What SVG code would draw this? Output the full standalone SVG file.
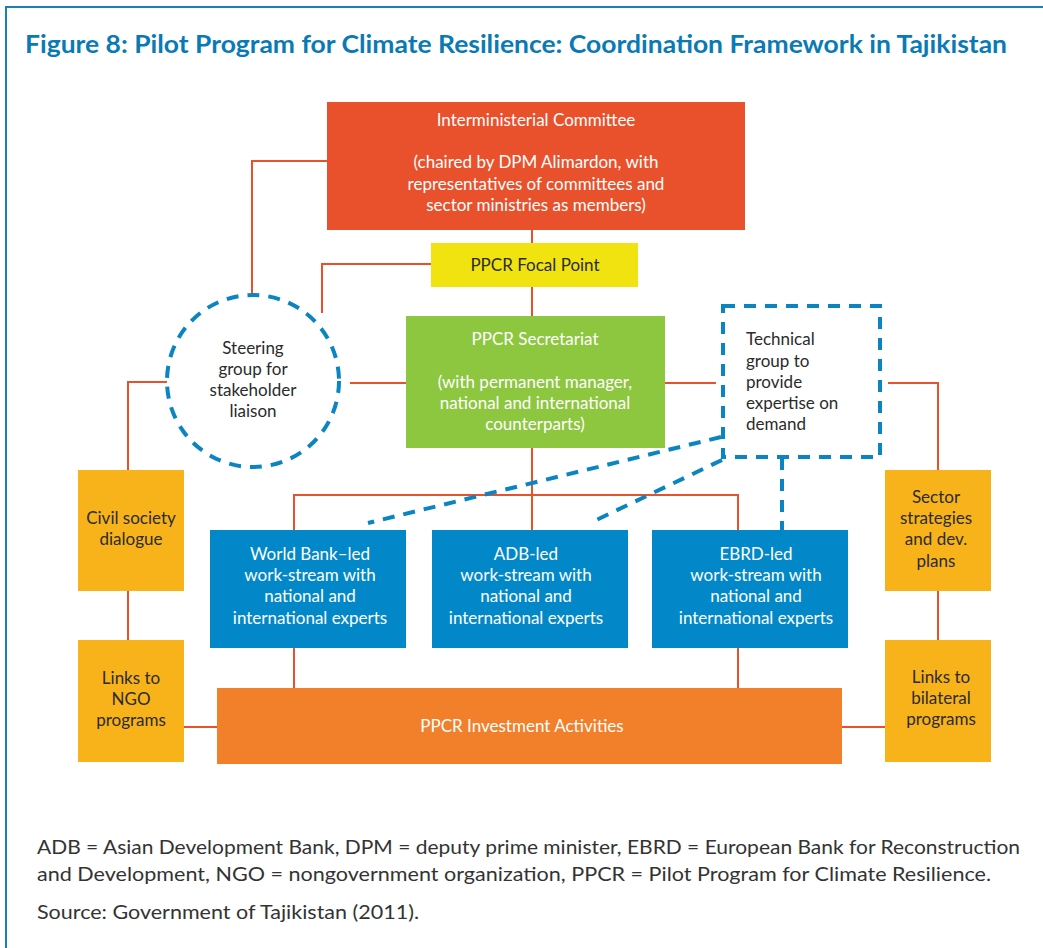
<svg xmlns="http://www.w3.org/2000/svg" width="1043" height="948" viewBox="0 0 1043 948">
<style>
.t{font-family:Lato,"Noto Sans",sans-serif;font-size:17px;text-anchor:middle}
.w{fill:#ffffff}
.d{fill:#2b2b2b}
.l{text-anchor:start}
.ln{fill:none;stroke:#e8512b;stroke-width:2}
.ds{fill:none;stroke:#0b84c2;stroke-width:4;stroke-dasharray:12 9}
.foot{font-family:Lato,"Noto Sans",sans-serif;font-size:19px;fill:#333333}
</style>
<rect x="0" y="0" width="1043" height="948" fill="#ffffff"/>
<path d="M6 948 V7 H1043" fill="none" stroke="#1a80b8" stroke-width="2"/>
<text x="25" y="53" font-family="Lato,'Noto Sans',sans-serif" font-weight="bold" font-size="24" fill="#0a7ab5" textLength="982" lengthAdjust="spacingAndGlyphs">Figure 8: Pilot Program for Climate Resilience: Coordination Framework in Tajikistan</text>

<g id="connectors">
<path class="ln" d="M532 230 V243"/>
<path class="ln" d="M532 287 V316"/>
<path class="ln" d="M327 161 H252 V296"/>
<path class="ln" d="M431 264 H322 V313"/>
<path class="ln" d="M350 383 H406"/>
<path class="ln" d="M167 382 H128 V470"/>
<path class="ln" d="M665 383 H716"/>
<path class="ln" d="M888 383 H938 V470"/>
<path class="ln" d="M532 448 V530"/>
<path class="ln" d="M294 530 V495 H738 V530"/>
<path class="ln" d="M294 648 V688"/>
<path class="ln" d="M738 648 V688"/>
<path class="ln" d="M128 591 V640"/>
<path class="ln" d="M938 591 V640"/>
<path class="ln" d="M184 727 H217"/>
<path class="ln" d="M842 727 H885"/>
<path class="ds" d="M721 437 L368 523"/>
<path class="ds" d="M722 460 L590 523"/>
<path class="ds" d="M782 458 V538"/>
</g>

<g id="committee">
<rect x="327" y="102" width="418" height="128" fill="#e8512b"/>
<text class="t w" x="536" y="126">Interministerial Committee</text>
<text class="t w" x="536" y="168">(chaired by DPM Alimardon, with</text>
<text class="t w" x="536" y="190">representatives of committees and</text>
<text class="t w" x="536" y="211">sector ministries as members)</text>
</g>

<g id="focal-point">
<rect x="431" y="243" width="207" height="44" fill="#f0e30f"/>
<text class="t d" x="535" y="271">PPCR Focal Point</text>
</g>

<g id="steering">
<circle cx="253" cy="381" r="86" fill="none" stroke="#0b84c2" stroke-width="4" stroke-dasharray="12 9"/>
<text class="t d" x="253" y="354">Steering</text>
<text class="t d" x="253" y="375">group for</text>
<text class="t d" x="253" y="396">stakeholder</text>
<text class="t d" x="253" y="417">liaison</text>
</g>

<g id="secretariat">
<rect x="406" y="316" width="259" height="132" fill="#8dc63f"/>
<text class="t w" x="535" y="345">PPCR Secretariat</text>
<text class="t w" x="535" y="388">(with permanent manager,</text>
<text class="t w" x="535" y="409">national and international</text>
<text class="t w" x="535" y="430">counterparts)</text>
</g>

<g id="technical">
<rect x="723" y="306" width="157" height="151" fill="none" stroke="#0b84c2" stroke-width="4" stroke-dasharray="12 9"/>
<text class="t d l" x="746" y="345">Technical</text>
<text class="t d l" x="746" y="367">group to</text>
<text class="t d l" x="746" y="388">provide</text>
<text class="t d l" x="746" y="409">expertise on</text>
<text class="t d l" x="746" y="430">demand</text>
</g>

<g id="civil">
<rect x="78" y="470" width="106" height="121" fill="#f8b31a"/>
<text class="t d" x="131" y="524">Civil society</text>
<text class="t d" x="131" y="545">dialogue</text>
</g>

<g id="ngo">
<rect x="78" y="640" width="106" height="122" fill="#f8b31a"/>
<text class="t d" x="131" y="684">Links to</text>
<text class="t d" x="131" y="705">NGO</text>
<text class="t d" x="131" y="726">programs</text>
</g>

<g id="sector">
<rect x="885" y="470" width="106" height="121" fill="#f8b31a"/>
<text class="t d" x="936" y="503">Sector</text>
<text class="t d" x="936" y="524">strategies</text>
<text class="t d" x="936" y="545">and dev.</text>
<text class="t d" x="936" y="567">plans</text>
</g>

<g id="bilateral">
<rect x="885" y="640" width="106" height="122" fill="#f8b31a"/>
<text class="t d" x="941" y="683">Links to</text>
<text class="t d" x="941" y="704">bilateral</text>
<text class="t d" x="941" y="725">programs</text>
</g>

<g id="worldbank">
<rect x="210" y="530" width="196" height="118" fill="#0288c8"/>
<text class="t w" x="310" y="560">World Bank–led</text>
<text class="t w" x="310" y="581">work-stream with</text>
<text class="t w" x="310" y="602">national and</text>
<text class="t w" x="310" y="624">international experts</text>
</g>

<g id="adb">
<rect x="432" y="530" width="196" height="118" fill="#0288c8"/>
<text class="t w" x="526" y="560">ADB-led</text>
<text class="t w" x="526" y="581">work-stream with</text>
<text class="t w" x="526" y="602">national and</text>
<text class="t w" x="526" y="624">international experts</text>
</g>

<g id="ebrd">
<rect x="652" y="530" width="196" height="118" fill="#0288c8"/>
<text class="t w" x="756" y="560">EBRD-led</text>
<text class="t w" x="756" y="581">work-stream with</text>
<text class="t w" x="756" y="602">national and</text>
<text class="t w" x="756" y="624">international experts</text>
</g>

<g id="investment">
<rect x="217" y="688" width="625" height="76" fill="#f2802b"/>
<text class="t w" x="522" y="732">PPCR Investment Activities</text>
</g>

<g id="footnote">
<text class="foot" x="37" y="854" textLength="983" lengthAdjust="spacingAndGlyphs">ADB = Asian Development Bank, DPM = deputy prime minister, EBRD = European Bank for Reconstruction</text>
<text class="foot" x="37" y="881" textLength="954" lengthAdjust="spacingAndGlyphs">and Development, NGO = nongovernment organization, PPCR = Pilot Program for Climate Resilience.</text>
<text class="foot" x="37" y="919" textLength="382" lengthAdjust="spacingAndGlyphs">Source: Government of Tajikistan (2011).</text>
</g>
</svg>
